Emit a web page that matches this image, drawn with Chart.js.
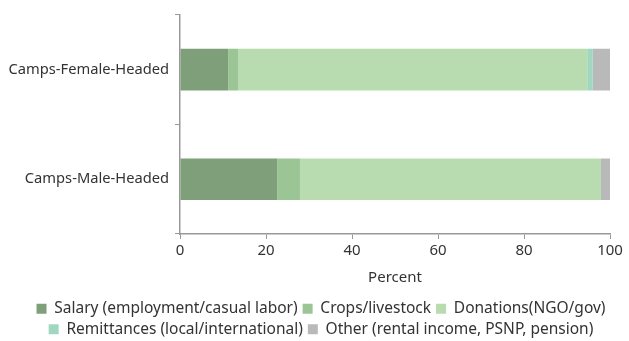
<!DOCTYPE html>
<html>
<head>
<meta charset="utf-8">
<script src="https://cdn.jsdelivr.net/npm/chart.js@4"></script>
<style>
    html, body { margin: 0; padding: 0; background: #fff; }
    #wrap { width: 629px; height: 341px; }
</style>
</head>
<body>
<div id="wrap"><canvas id="chart"></canvas></div>
<script>
// categories and series (percent of households)
const groups = ['Camps-Female-Headed', 'Camps-Male-Headed'];
const sources = [
    'Salary (employment/casual labor)',
    'Crops/livestock',
    'Donations(NGO/gov)',
    'Remittances (local/international)',
    'Other (rental income, PSNP, pension)'
];
const salary = [11.2, 22.6];
const crops = [2.3, 5.3];
const donations = [81.2, 70.0];
const remittances = [1.3, 0];
const other = [4.0, 2.1];
const xTicks = [0, 20, 40, 60, 80, 100];

const colors = ['#7f9f7a', '#9bc595', '#b8dcb0', '#a1d7c0', '#b9b9b9'];
const seriesValues = [salary, crops, donations, remittances, other];

const axisColor = '#999999';
const font = { family: 'Noto Sans', size: 15 };
const yFont = { family: 'Noto Sans', size: 14.7 };
const legendFont = { family: 'Noto Sans', size: 15.5 };

// nudge the legend a bit to the right, the reference centres it on the page
const legendShift = {
    id: 'legendShift',
    afterLayout(chart) {
        chart.legend.left += 16;
        chart.legend.right += 16;
    }
};

const ctx = document.getElementById('chart').getContext('2d');
new Chart(ctx, {
    type: 'bar',
    data: {
        labels: groups,
        datasets: sources.map((name, i) => ({
            label: name,
            data: seriesValues[i],
            backgroundColor: colors[i],
            borderWidth: 0,
            barPercentage: 0.38,
            categoryPercentage: 1
        }))
    },
    plugins: [legendShift],
    options: {
        indexAxis: 'y',
        responsive: true,
        maintainAspectRatio: false,
        animation: false,
        layout: { padding: { top: 10, right: 19, left: 0, bottom: -6 } },
        plugins: {
            tooltip: { enabled: false },
            legend: {
                position: 'bottom',
                labels: {
                    font: legendFont,
                    color: '#333',
                    boxWidth: 10,
                    boxHeight: 10,
                    padding: 5
                }
            }
        },
        scales: {
            x: {
                stacked: true,
                min: 0,
                max: 100,
                afterBuildTicks: scale => { scale.ticks = xTicks.map(v => ({ value: v })); },
                ticks: { font: font, color: '#333', padding: 3 },
                grid: { drawOnChartArea: false, drawTicks: true, tickLength: 5, color: axisColor },
                border: { color: axisColor, width: 1.5 },
                title: { display: true, text: 'Percent', font: font, color: '#333', padding: { top: 6, bottom: 9 } }
            },
            y: {
                stacked: true,
                afterFit: scale => { scale.width = 180; },
                ticks: { font: yFont, color: '#333', padding: 6 },
                grid: { offset: true, drawOnChartArea: false, drawTicks: true, tickLength: 5, color: axisColor },
                border: { color: axisColor, width: 1.5 }
            }
        }
    }
});
</script>
</body>
</html>
